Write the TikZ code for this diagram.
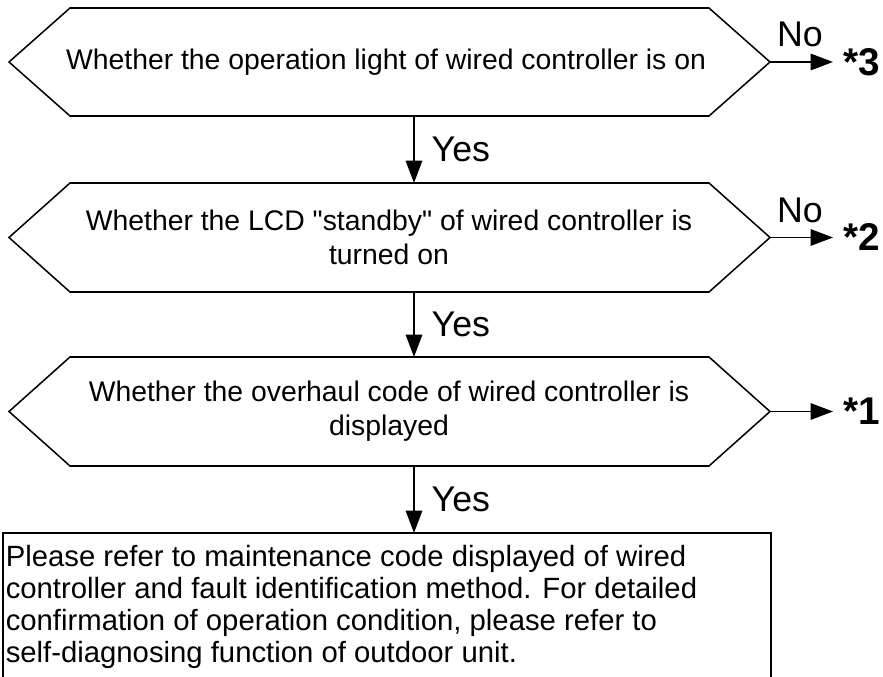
\documentclass[tikz,border=0pt]{standalone}
\usepackage{fontspec}
\setmainfont{Liberation Sans}
\usetikzlibrary{arrows.meta}

\begin{document}
\begin{tikzpicture}[x=0.03cm, y=-0.03cm, line width=1.3pt,
    >={Triangle[length=19pt, width=14pt]},
    sporsmal/.style={font=\fontsize{24.2}{29}\selectfont, align=center, inner sep=0pt},
    jalbl/.style={font=\fontsize{30.5}{32}\selectfont},
    neilbl/.style={font=\fontsize{30.5}{32}\selectfont},
    stjerne/.style={font=\fontsize{33}{36}\selectfont\bfseries, anchor=west, inner sep=0pt}]
    \useasboundingbox (0,0) rectangle (883,677);

    % Sjekk 1
    \draw (9,62) -- (70,8) -- (709,8) -- (770,62) -- (709,116) -- (70,116) -- cycle;
    \node[sporsmal] (q1) at (386,62) {Whether the operation light of wired controller is on};
    \coordinate (q1r) at (770,62);
    \coordinate (q1b) at (414,116);
    \node[stjerne] (s3) at (843,62) {*3};
    \draw[->, shorten >=0.3cm] (q1r) -- (s3) node[pos=0.41, above=0.3cm, neilbl] (no1) {No};

    % Sjekk 2
    \draw (9,237.5) -- (70,183) -- (709,183) -- (770,237.5) -- (709,292) -- (70,292) -- cycle;
    \node[sporsmal] (q2) at (389,237.5) {Whether the LCD \textquotedbl standby\textquotedbl{} of wired controller is\\ turned on};
    \coordinate (q2t) at (414,183);
    \coordinate (q2r) at (770,237.5);
    \coordinate (q2b) at (414,292);
    \node[stjerne] (s2) at (843,237.5) {*2};
    \draw[->, shorten >=0.3cm] (q2r) -- (s2) node[pos=0.41, above=0.3cm, neilbl] (no2) {No};
    \draw[->] (q1b) -- (q2t) node[midway, right=0.39cm, jalbl] (yes1) {Yes};

    % Sjekk 3
    \draw (9,411.5) -- (70,357) -- (709,357) -- (770,411.5) -- (709,466) -- (70,466) -- cycle;
    \node[sporsmal] (q3) at (389,411.5) {Whether the overhaul code of wired controller is\\ displayed};
    \coordinate (q3t) at (414,357);
    \coordinate (q3r) at (770,411.5);
    \coordinate (q3b) at (414,466);
    \node[stjerne] (s1) at (843,411.5) {*1};
    \draw[->, shorten >=0.3cm] (q3r) -- (s1);
    \draw[->] (q2b) -- (q3t) node[midway, right=0.39cm, jalbl] (yes2) {Yes};

    % Tiltak
    \draw (3,533) rectangle (771,700);
    \coordinate (boks) at (414,533);
    \node[anchor=north west, align=left, inner sep=0pt, font=\fontsize{25}{27.3}\selectfont] (info) at (5,545)
      {Please refer to maintenance code displayed of wired\\
       controller and fault identification method. For detailed\\
       confirmation of operation condition, please refer to\\
       self-diagnosing function of outdoor unit.};
    \draw[->] (q3b) -- (boks) node[midway, right=0.39cm, jalbl] (yes3) {Yes};
  \end{tikzpicture}
\end{document}
